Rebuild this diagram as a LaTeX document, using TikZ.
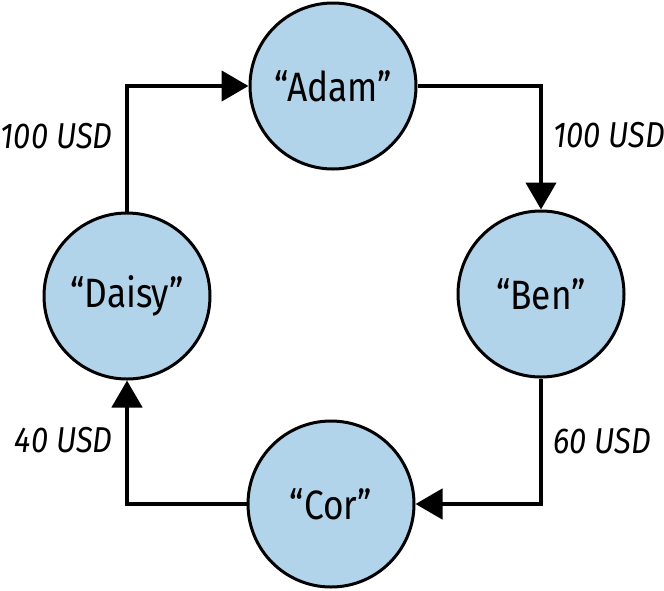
\documentclass[tikz,border=0pt]{standalone}
\usepackage{fontspec}
\setmainfont{Fira Sans}[FakeStretch=0.86]
\usepackage{tikz}
\usetikzlibrary{arrows.meta, positioning}
\definecolor{blue1}{RGB}{178,212,234}

\begin{document}
\begin{tikzpicture}[x=1pt,y=-1pt,
                    >={Triangle[length=27pt,width=30pt]},
                    line width=4.6pt, line join=miter,
                    amount/.style={font=\fontsize{36}{40}\selectfont\itshape, inner sep=10pt}]
        \tikzstyle{person}=[circle,fill=blue1,draw=black,line width=3pt,minimum size=166pt,
                            inner sep=0pt,font=\fontsize{41}{44}\selectfont]
        \useasboundingbox (0,0) rectangle (664,590);

        \node[person]        (Adam)  at (333, 86)     {“Adam”};
        \node[person]        (Ben)   at (541, 294)    {“Ben”};
        \node[person]        (Cor)   at (331, 504)    {“Cor”};
        \node[person]        (Daisy) at (127, 296)    {“Daisy”};

        \draw[->] (Daisy) |- node[amount, pos=0.3, left, xshift=-2pt]  {100 USD} (Adam);
        \draw[->] (Adam)  -| node[amount, pos=0.7, right] {100 USD} (Ben);
        \draw[->] (Ben)   |- node[amount, pos=0.25, right] {60 USD} (Cor);
        \draw[->] (Cor)   -| node[amount, pos=0.76, left, xshift=-2pt]  {40 USD} (Daisy);
    \end{tikzpicture}
\end{document}
